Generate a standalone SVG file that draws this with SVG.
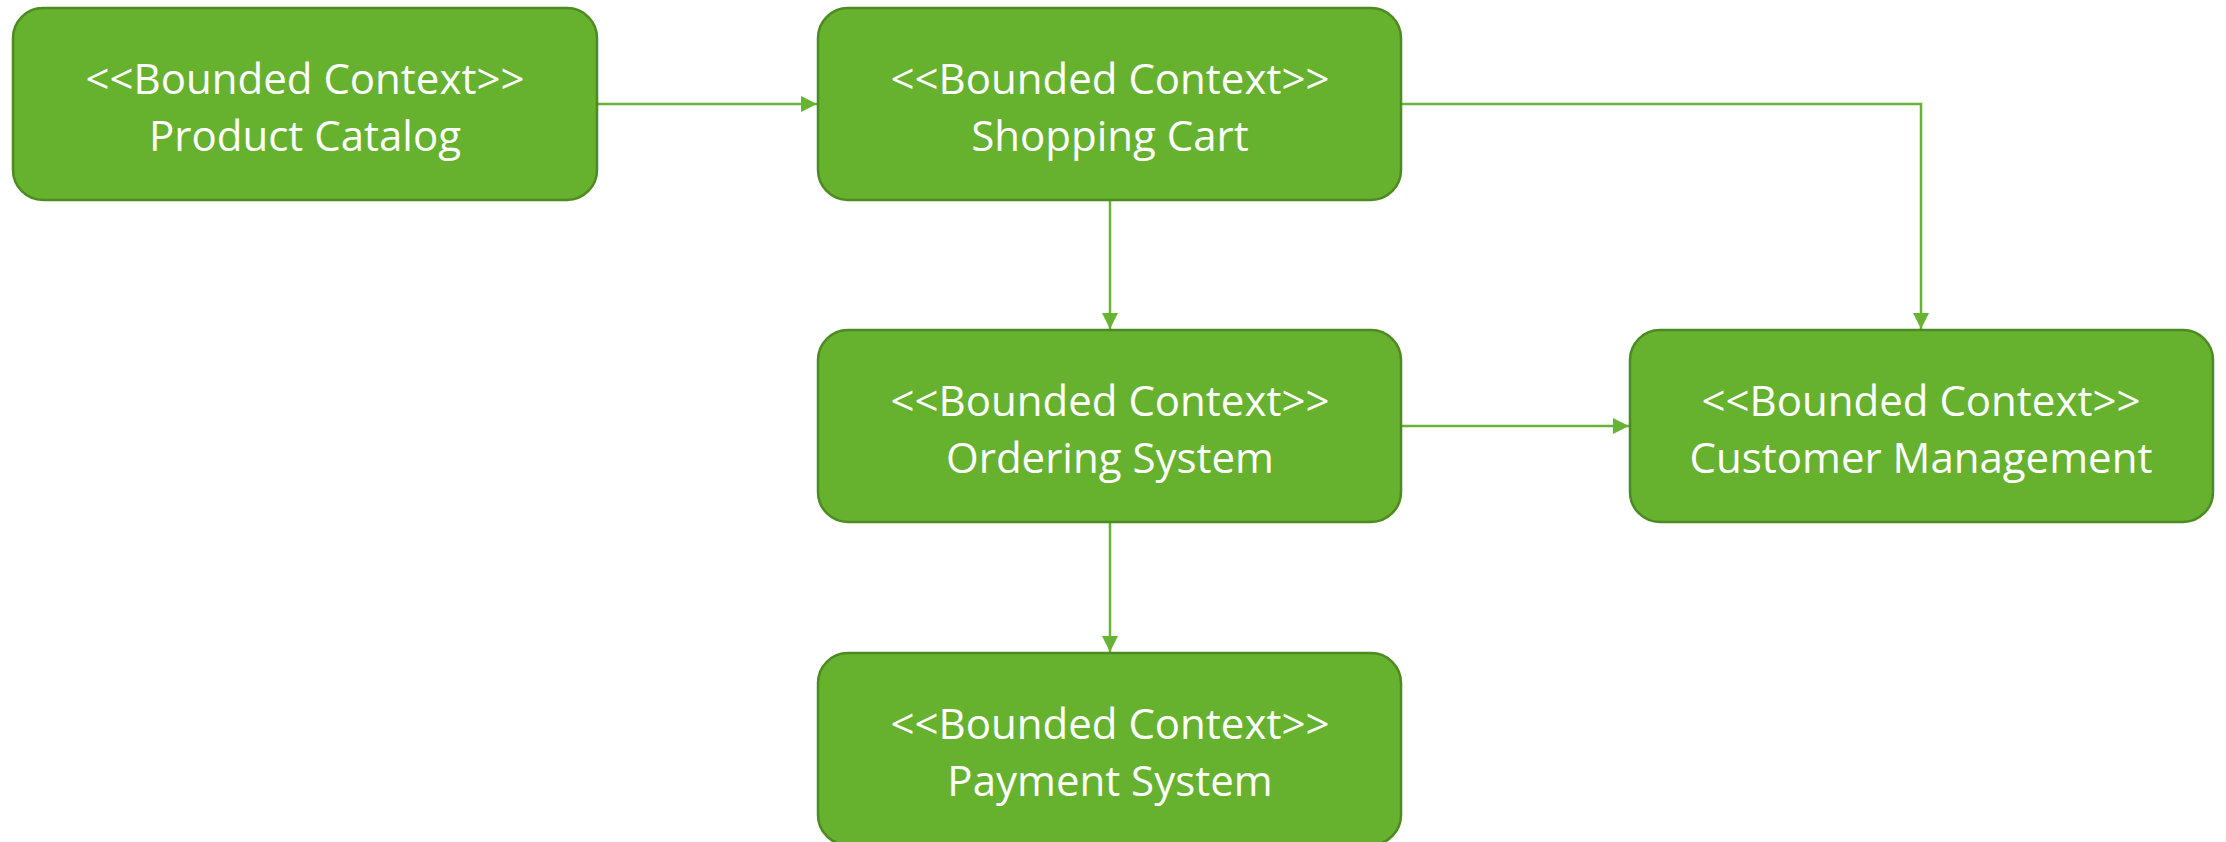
<svg xmlns="http://www.w3.org/2000/svg" width="2226" height="842" viewBox="0 0 2226 842">
<defs>
<style>
.box{fill:#66B22F;stroke:#4E8A22;stroke-width:2.5}
.t{fill:#ffffff;font-family:"Open Sans","Noto Sans",sans-serif;font-size:42px;text-anchor:middle}
.c{fill:none;stroke:#67B334;stroke-width:2.5}
</style>
<marker id="a" viewBox="0 0 16 16" refX="16" refY="8" markerWidth="16" markerHeight="16" markerUnits="userSpaceOnUse" orient="auto">
<path d="M0,0 L16,8 L0,16 z" fill="#67B334"/>
</marker>
</defs>
<rect width="2226" height="842" fill="#ffffff"/>
<g id="connectors">
<path class="c" d="M598,104 H817" marker-end="url(#a)"/>
<path class="c" d="M1401,104 H1921 V329" marker-end="url(#a)"/>
<path class="c" d="M1110,201 V329" marker-end="url(#a)"/>
<path class="c" d="M1401,426 H1629" marker-end="url(#a)"/>
<path class="c" d="M1110,523 V652" marker-end="url(#a)"/>
</g>
<g id="product-catalog">
<rect class="box" x="13" y="8" width="584" height="192" rx="30"/>
<text class="t" x="305" y="94">&lt;&lt;Bounded Context&gt;&gt;</text>
<text class="t" x="305" y="151">Product Catalog</text>
</g>
<g id="shopping-cart">
<rect class="box" x="818" y="8" width="583" height="192" rx="30"/>
<text class="t" x="1110" y="94">&lt;&lt;Bounded Context&gt;&gt;</text>
<text class="t" x="1110" y="151">Shopping Cart</text>
</g>
<g id="ordering-system">
<rect class="box" x="818" y="330" width="583" height="192" rx="30"/>
<text class="t" x="1110" y="416">&lt;&lt;Bounded Context&gt;&gt;</text>
<text class="t" x="1110" y="473">Ordering System</text>
</g>
<g id="customer-management">
<rect class="box" x="1630" y="330" width="583" height="192" rx="30"/>
<text class="t" x="1921" y="416">&lt;&lt;Bounded Context&gt;&gt;</text>
<text class="t" x="1921" y="473">Customer Management</text>
</g>
<g id="payment-system">
<rect class="box" x="818" y="653" width="583" height="192" rx="30"/>
<text class="t" x="1110" y="739">&lt;&lt;Bounded Context&gt;&gt;</text>
<text class="t" x="1110" y="796">Payment System</text>
</g>
</svg>
